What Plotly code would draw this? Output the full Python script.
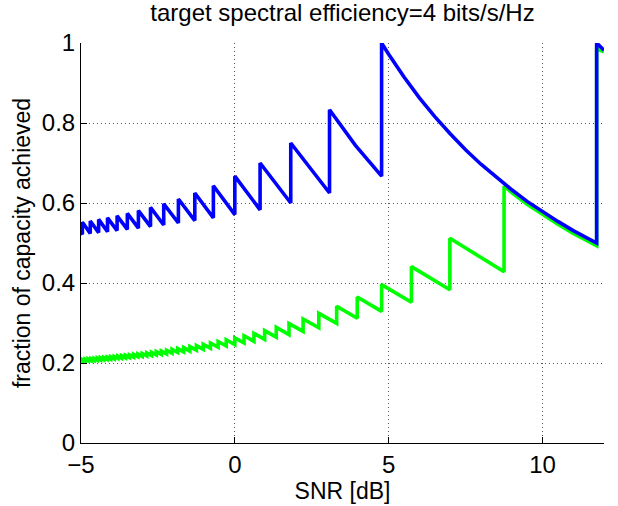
import plotly.graph_objects as go

# ---- data ----
title_text = "target spectral efficiency=4 bits/s/Hz"
x_label = "SNR [dB]"
y_label = "fraction of capacity achieved"
x_ticks = [-5, 0, 5, 10]
y_ticks = [0, 0.2, 0.4, 0.6, 0.8, 1]

blue_x = [-5.0, -4.955, -4.955, -4.699, -4.699, -4.426, -4.426, -4.138, -4.138,
          -3.827, -3.827, -3.494, -3.494, -3.134, -3.134, -2.741, -2.741,
          -2.311, -2.311, -1.834, -1.834, -1.301, -1.301, -0.697, -0.697,
          0.0, 0.0, 0.821, 0.821, 1.818, 1.818, 3.078, 3.078, 3.92, 4.771, 4.771,
          5.0, 5.5, 6.0, 6.5, 7.0, 7.5, 8.0, 8.5, 9.0, 9.5, 10.0, 10.5, 11.0,
          11.5, 11.761, 11.761, 12.0]
blue_y = [0.526, 0.522, 0.552, 0.524, 0.555, 0.526, 0.559, 0.528, 0.563,
          0.531, 0.568, 0.534, 0.574, 0.537, 0.581, 0.541, 0.589,
          0.545, 0.598, 0.550, 0.610, 0.556, 0.625, 0.563, 0.643,
          0.571, 0.667, 0.583, 0.700, 0.600, 0.750, 0.625, 0.833, 0.744, 0.667, 1.000,
          0.972, 0.915, 0.863, 0.816, 0.773, 0.733, 0.697, 0.664, 0.633, 0.604,
          0.578, 0.554, 0.531, 0.510, 0.500, 1.000, 0.982]

green_x = [-5.0,
           -4.960, -4.960, -4.867, -4.867, -4.771, -4.771, -4.674, -4.674,
           -4.574, -4.574, -4.471, -4.471, -4.367, -4.367, -4.260, -4.260,
           -4.150, -4.150, -4.037, -4.037, -3.921, -3.921, -3.802, -3.802,
           -3.680, -3.680, -3.554, -3.554, -3.424, -3.424, -3.290, -3.290,
           -3.153, -3.153, -3.010, -3.010, -2.863, -2.863, -2.711, -2.711,
           -2.553, -2.553, -2.389, -2.389, -2.218, -2.218, -2.041, -2.041,
           -1.856, -1.856, -1.663, -1.663, -1.461, -1.461, -1.249, -1.249,
           -1.027, -1.027, -0.792, -0.792, -0.543, -0.543, -0.280, -0.280,
           0.000, 0.000, 0.300, 0.300, 0.622, 0.622, 0.969, 0.969,
           1.347, 1.347, 1.761, 1.761, 2.219, 2.219, 2.730, 2.730,
           3.310, 3.310, 3.979, 3.979, 4.771, 4.771, 5.740, 5.740,
           6.990, 6.990, 8.751, 8.751,
           9.0, 9.5, 10.0, 10.5, 11.0, 11.5, 11.761, 11.761, 12.0]
green_y = [0.2060,
           0.2045, 0.2089, 0.2050, 0.2096, 0.2056, 0.2102, 0.2060, 0.2108,
           0.2066, 0.2114, 0.2071, 0.2121, 0.2077, 0.2129, 0.2084, 0.2137,
           0.2090, 0.2145, 0.2097, 0.2153, 0.2104, 0.2162, 0.2112, 0.2171,
           0.2119, 0.2181, 0.2128, 0.2191, 0.2136, 0.2202, 0.2146, 0.2214,
           0.2155, 0.2226, 0.2166, 0.2239, 0.2177, 0.2253, 0.2188, 0.2268,
           0.2201, 0.2284, 0.2215, 0.2301, 0.2229, 0.2320, 0.2244, 0.2340,
           0.2261, 0.2361, 0.2279, 0.2384, 0.2298, 0.2409, 0.2320, 0.2438,
           0.2342, 0.2467, 0.2367, 0.2501, 0.2394, 0.2537, 0.2426, 0.2580,
           0.2460, 0.2627, 0.250, 0.268, 0.254, 0.274, 0.259, 0.281,
           0.2646, 0.289, 0.271, 0.2986, 0.279, 0.310, 0.288, 0.324,
           0.299, 0.342, 0.312, 0.365, 0.329, 0.396, 0.352, 0.441,
           0.383, 0.512, 0.428, 0.642,
           0.626, 0.597, 0.571, 0.547, 0.524, 0.503, 0.493, 0.985, 0.978]

FONT = "Liberation Sans, Arial, Helvetica, sans-serif"

fig = go.Figure()
fig.add_trace(go.Scatter(x=green_x, y=green_y, mode="lines",
                         line=dict(color="#00ff00", width=3.6),
                         showlegend=False, hoverinfo="skip"))
fig.add_trace(go.Scatter(x=blue_x, y=blue_y, mode="lines",
                         line=dict(color="#0000ff", width=3.6),
                         showlegend=False, hoverinfo="skip"))

axis_common = dict(
    showgrid=True, griddash="1px,3px", gridcolor="#555555", gridwidth=1,
    zeroline=False, showline=True, linecolor="black", linewidth=1,
    ticks="inside", ticklen=6, tickcolor="black",
    tickfont=dict(family=FONT, size=24, color="black"),
    mirror=False,
)

fig.update_layout(
    width=618, height=506,
    margin=dict(l=81, r=14, t=43, b=58),
    paper_bgcolor="white", plot_bgcolor="white",
    font=dict(family=FONT, color="black"),
    title=dict(text=title_text, x=0.5, xref="paper", xanchor="center",
               y=1 - 13 / 506, yref="container", yanchor="middle",
               font=dict(family=FONT, size=24, color="black")),
    xaxis=dict(range=[-5, 12], tickvals=x_ticks,
               title=dict(text=x_label, standoff=0,
                          font=dict(family=FONT, size=23, color="black")),
               **axis_common),
    yaxis=dict(range=[0, 1], tickvals=y_ticks,
               title=dict(text=y_label, standoff=4,
                          font=dict(family=FONT, size=23, color="black")),
               **axis_common),
)

fig.write_html("out.html", config={"displayModeBar": False},
               post_script="document.body.style.margin='0px';")
